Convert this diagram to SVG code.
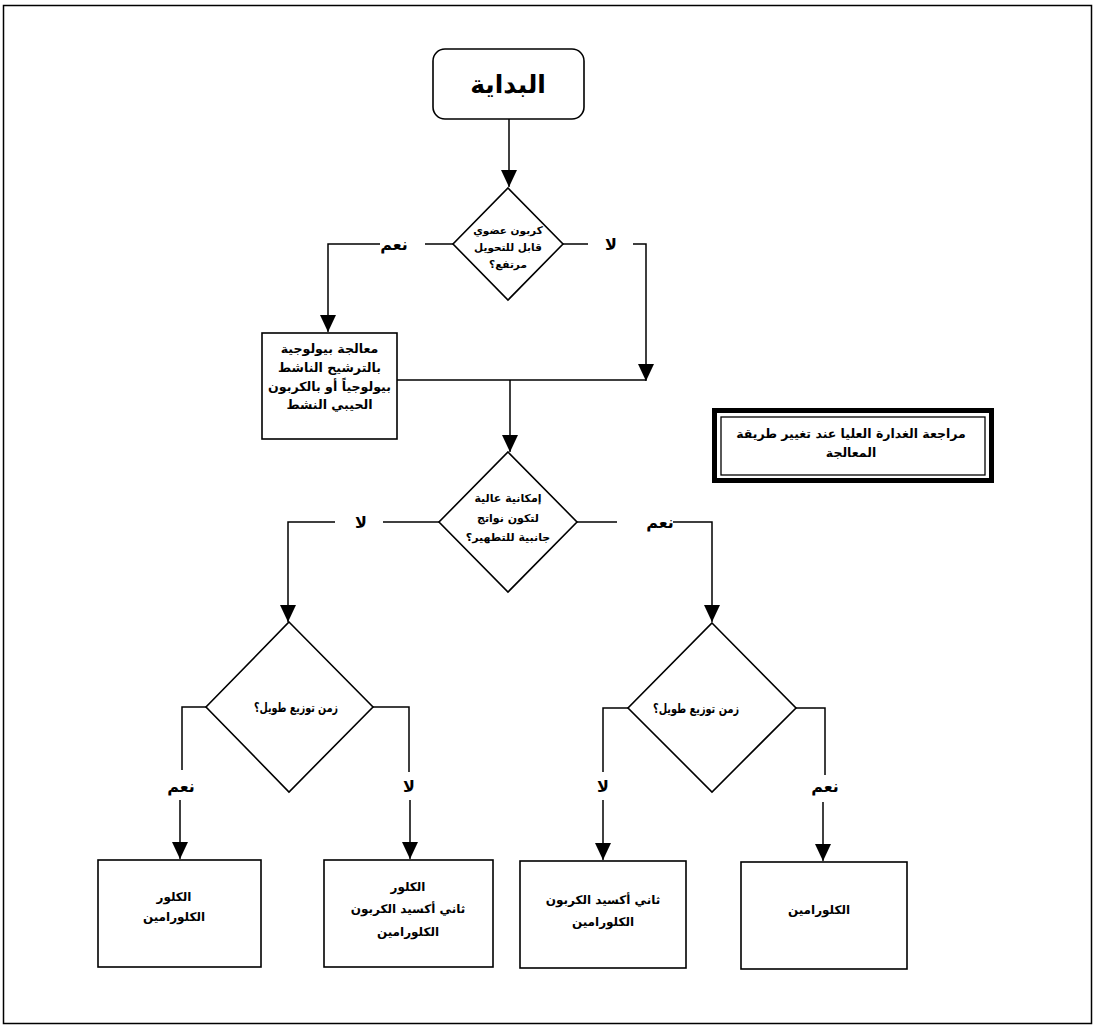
<svg xmlns="http://www.w3.org/2000/svg" width="1094" height="1026" viewBox="0 0 1094 1026">
<defs>
<marker id="ah" markerUnits="userSpaceOnUse" markerWidth="16" markerHeight="18" refX="17" refY="8" orient="auto">
<path d="M0,0 L17,8 L0,16 Z" fill="#000"/>
</marker>
<style>
.ln{fill:none;stroke:#000;stroke-width:1.5}
.bx{fill:#fff;stroke:#000;stroke-width:1.6}
.t{font-family:"DejaVu Sans",sans-serif;font-weight:bold;text-anchor:middle;fill:#000}
.lb{font-family:"DejaVu Sans",sans-serif;font-weight:bold;text-anchor:middle;fill:#000;font-size:16px}
</style>
</defs>
<rect x="0" y="0" width="1094" height="1026" fill="#fff"/>
<rect x="3.5" y="5.5" width="1088" height="1018" fill="none" stroke="#000" stroke-width="1.5"/>

<g id="connectors">
<path class="ln" d="M509,119 V187" marker-end="url(#ah)"/>
<path class="ln" d="M453,244 H425"/>
<path class="ln" d="M380,244 H328 V332" marker-end="url(#ah)"/>
<path class="ln" d="M563,244 H588"/>
<path class="ln" d="M633,244 H646 V381" marker-end="url(#ah)"/>
<path class="ln" d="M397,380 H646"/>
<path class="ln" d="M510,380 V452" marker-end="url(#ah)"/>
<path class="ln" d="M439,522 H383"/>
<path class="ln" d="M335,522 H288 V622" marker-end="url(#ah)"/>
<path class="ln" d="M576,522 H617"/>
<path class="ln" d="M673,522 H712 V622" marker-end="url(#ah)"/>
<path class="ln" d="M206,707 H182 V770"/>
<path class="ln" d="M180,800 V859" marker-end="url(#ah)"/>
<path class="ln" d="M373,707 H409 V772"/>
<path class="ln" d="M410,800 V859" marker-end="url(#ah)"/>
<path class="ln" d="M628,708 H603 V772"/>
<path class="ln" d="M603,800 V860" marker-end="url(#ah)"/>
<path class="ln" d="M796,708 H825 V775"/>
<path class="ln" d="M823,802 V861" marker-end="url(#ah)"/>
<text class="lb" x="394" y="250">نعم</text>
<text class="lb" x="611" y="250">لا</text>
<text class="lb" x="361" y="528">لا</text>
<text class="lb" x="660" y="528">نعم</text>
<text class="lb" x="181" y="792">نعم</text>
<text class="lb" x="409" y="792">لا</text>
<text class="lb" x="603" y="792">لا</text>
<text class="lb" x="825" y="792">نعم</text>
</g>

<g id="start">
<rect class="bx" x="433" y="49" width="151" height="70" rx="12"/>
<text class="t" x="508" y="93" font-size="25">البداية</text>
</g>

<g id="decision1">
<polygon class="bx" points="508,188 563,244 508,300 453,244"/>
<text class="t" font-size="10.5" x="508" y="234">كربون عضوي</text>
<text class="t" font-size="10.5" x="508" y="251">قابل للتحويل</text>
<text class="t" font-size="10.5" x="508" y="268">مرتفع؟</text>
</g>

<g id="biotreat">
<rect class="bx" x="262" y="333" width="135" height="106"/>
<text class="t" font-size="12.6" x="329.5" y="353">معالجة بيولوجية</text>
<text class="t" font-size="12.6" x="329.5" y="372">بالترشيح الناشط</text>
<text class="t" font-size="12.6" x="329.5" y="391">بيولوجياً أو بالكربون</text>
<text class="t" font-size="12.6" x="329.5" y="409">الحيبي النشط</text>
</g>

<g id="review">
<rect x="714.5" y="410.5" width="277" height="70" fill="#fff" stroke="#000" stroke-width="5"/>
<rect x="721" y="417" width="264" height="58" fill="none" stroke="#000" stroke-width="1.3"/>
<text class="t" font-size="12.5" x="851" y="438">مراجعة الغدارة العليا عند تغيير طريقة</text>
<text class="t" font-size="12.5" x="851" y="457">المعالجة</text>
</g>

<g id="decision2">
<polygon class="bx" points="508,452 577,522 508,592 439,522"/>
<text class="t" font-size="11" x="508" y="502">إمكانية عالية</text>
<text class="t" font-size="11" x="508" y="522">لتكون نواتج</text>
<text class="t" font-size="11" x="508" y="541">جانبية للتطهير؟</text>
</g>

<g id="decision3">
<polygon class="bx" points="289,622 373,707 289,792 206,707"/>
<text class="t" font-size="12.5" x="296" y="712" textLength="84" lengthAdjust="spacingAndGlyphs">زمن توزيع طويل؟</text>
</g>

<g id="decision4">
<polygon class="bx" points="712,623 796,708 712,792 628,708"/>
<text class="t" font-size="12.5" x="696" y="713" textLength="86" lengthAdjust="spacingAndGlyphs">زمن توزيع طويل؟</text>
</g>

<g id="box1">
<rect class="bx" x="98" y="860" width="163" height="107"/>
<text class="t" font-size="12" x="174" y="901">الكلور</text>
<text class="t" font-size="12" x="174" y="921">الكلورامين</text>
</g>

<g id="box2">
<rect class="bx" x="324" y="860" width="169" height="107"/>
<text class="t" font-size="12" x="408" y="891">الكلور</text>
<text class="t" font-size="12" x="408" y="913">ثاني أكسيد الكربون</text>
<text class="t" font-size="12" x="408" y="936">الكلورامين</text>
</g>

<g id="box3">
<rect class="bx" x="520" y="861" width="166" height="107"/>
<text class="t" font-size="12" x="603" y="904">ثاني أكسيد الكربون</text>
<text class="t" font-size="12" x="603" y="926">الكلورامين</text>
</g>

<g id="box4">
<rect class="bx" x="741" y="862" width="166" height="107"/>
<text class="t" font-size="12" x="819" y="914">الكلورامين</text>
</g>
</svg>
